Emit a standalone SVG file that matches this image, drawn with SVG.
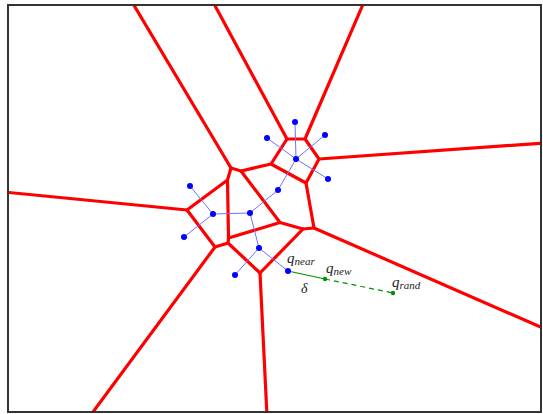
<svg xmlns="http://www.w3.org/2000/svg" width="543" height="414" viewBox="0 0 543 414">
<style>
.red{stroke:#ff0000;stroke-width:3.2;fill:none;stroke-linejoin:round;stroke-linecap:round}
.tree{stroke:#7070ff;stroke-width:1;fill:none}
.bn{fill:#0000ff}
.gn{fill:#008f00}
.lab{font-family:"Liberation Serif",serif;font-style:italic;fill:#222}
</style>
<defs><clipPath id="fr"><rect x="9" y="6" width="531" height="405"/></clipPath></defs>
<rect x="0" y="0" width="543" height="414" fill="#fff"/>
<g id="voronoi" clip-path="url(#fr)">
<path class="red" d="M231,168 L241,171 L271,164 L287,139 L305,139 L319,159 L306,183 L271,164"/>
<path class="red" d="M231,168 L227.5,180 L228.5,238 L228,243 L215,247 L187,210 L227.5,180"/>
<path class="red" d="M228.5,238 L280,222.5 L241,171"/>
<path class="red" d="M280,222.5 L303,229 L314,228 L306,183"/>
<path class="red" d="M303,229 L260,273 L228,243"/>
<path class="red" d="M231,168 L132,2 M287,139 L213,2 M305,139 L364,2 M319,159 L545,143 M314,228 L545,329 M260,273 L267,416 M215,247 L90,416 M187,210 L4,192"/>
</g>
<g id="connectors">
<path class="tree" d="M295,122 L296,159 M267,138 L296,159 L328,179 M325,135 L296,159 L278,190 L250,213 L213,214 M190,186 L213,214 L184,237 M250,213 L259,248 L235,275 M259,248 L288,271"/>
<line x1="288" y1="271" x2="325" y2="279" stroke="#008f00" stroke-width="1.2"/>
<line x1="325" y1="279" x2="393" y2="293" stroke="#008f00" stroke-width="1.2" stroke-dasharray="5,4"/>
</g>
<g id="nodes">
<circle class="bn" cx="295" cy="122" r="3"/>
<circle class="bn" cx="267" cy="138" r="3"/>
<circle class="bn" cx="325" cy="135" r="3"/>
<circle class="bn" cx="296" cy="159" r="3"/>
<circle class="bn" cx="328" cy="179" r="3"/>
<circle class="bn" cx="278" cy="190" r="3"/>
<circle class="bn" cx="190" cy="186" r="3"/>
<circle class="bn" cx="213" cy="214" r="3"/>
<circle class="bn" cx="250" cy="213" r="3"/>
<circle class="bn" cx="184" cy="237" r="3"/>
<circle class="bn" cx="259" cy="248" r="3"/>
<circle class="bn" cx="235" cy="275" r="3"/>
<g id="q_near"><circle class="bn" cx="288" cy="271" r="3"/>
<text class="lab" x="287" y="263" font-size="15">q<tspan font-size="11" dy="2">near</tspan></text></g>
<g id="q_new"><circle class="gn" cx="325" cy="279" r="2.2"/>
<text class="lab" x="326" y="273" font-size="15">q<tspan font-size="11" dy="2">new</tspan></text></g>
<g id="q_rand"><circle class="gn" cx="393" cy="293" r="2.2"/>
<text class="lab" x="392" y="287" font-size="15">q<tspan font-size="11" dy="2">rand</tspan></text></g>
<text class="lab" x="301" y="293" font-size="14">δ</text>
</g>
<rect x="8" y="5" width="533" height="407" fill="none" stroke="#333" stroke-width="2"/>
</svg>
